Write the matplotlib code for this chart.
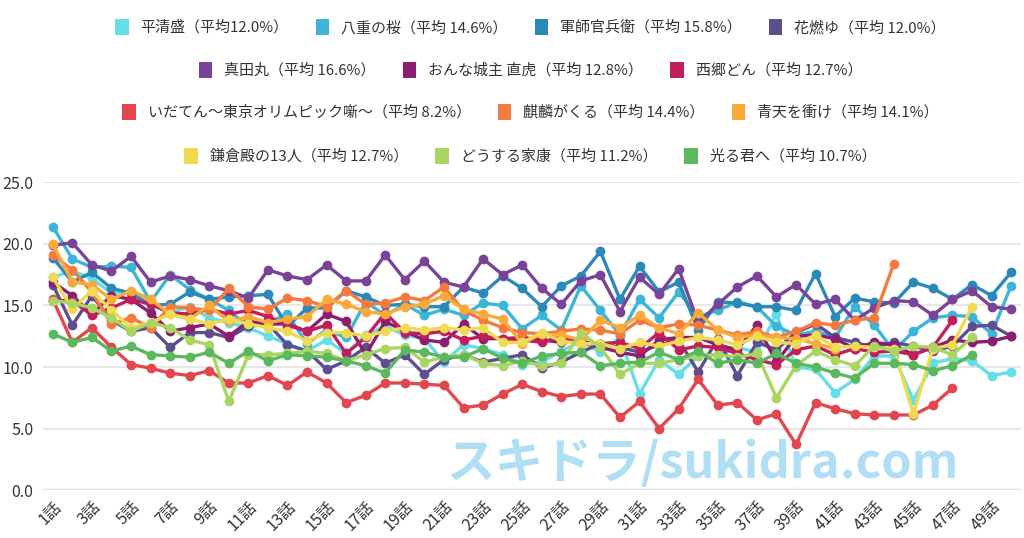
#!/usr/bin/python3

from matplotlib import pyplot as plt
from matplotlib.patches import Patch
from matplotlib.ticker import FixedLocator

# viewer ratings (%) per episode
heike = [17.3, 17.8, 17.2, 16.0, 16.1, 15.3, 14.4, 14.9, 14.0, 13.6, 13.2, 12.5, 11.9, 11.3, 12.2, 11.1, 12.6,
         13.3, 12.6, 12.3, 10.4, 11.8, 11.5, 11.0, 10.2, 10.4, 11.3, 12.1, 11.2, 12.4, 7.8, 10.6, 9.4, 10.9,
         11.0, 11.6, 11.2, 14.3, 10.0, 9.8, 7.9, 9.0, 10.9, 10.9, 7.3, 10.3, 10.7, 10.5, 9.3, 9.6]
yae = [21.4, 18.8, 18.1, 18.2, 18.1, 15.3, 17.5, 16.3, 15.5, 14.6, 13.3, 13.6, 14.3, 11.9, 13.0, 12.4, 15.3,
       14.2, 15.1, 14.2, 14.7, 14.2, 15.2, 15.0, 13.1, 14.2, 13.0, 16.6, 14.6, 12.6, 15.5, 14.0, 16.1, 14.1,
       14.6, 15.3, 14.9, 13.3, 12.6, 12.9, 12.4, 14.9, 13.4, 11.3, 12.9, 14.0, 14.2, 14.1, 12.7, 16.6]
kanbei = [18.9, 16.9, 17.7, 16.4, 16.0, 15.0, 15.1, 16.1, 15.5, 15.7, 15.8, 15.9, 13.3, 14.8, 14.8, 16.2, 15.7,
          15.0, 15.1, 14.9, 14.9, 16.5, 16.0, 17.4, 16.4, 14.9, 16.6, 17.4, 19.4, 15.5, 18.2, 16.1, 16.9, 13.0,
          15.3, 15.2, 14.9, 14.9, 14.6, 17.6, 14.1, 15.6, 15.3, 15.2, 16.9, 16.4, 15.5, 16.7, 15.8, 17.7]
hanamoyu = [16.7, 13.4, 15.8, 13.8, 12.9, 13.2, 11.6, 12.8, 12.8, 12.4, 13.3, 13.5, 11.8, 11.3, 9.8, 10.5, 11.6,
            10.3, 11.0, 9.4, 10.6, 11.0, 10.4, 10.7, 11.0, 9.9, 10.4, 11.2, 11.9, 11.6, 11.2, 11.8, 12.2, 9.6,
            12.3, 9.3, 12.0, 11.4, 12.8, 13.5, 12.4, 12.0, 11.6, 12.0, 11.7, 11.3, 11.7, 13.3, 13.4, 12.5]
sanada = [19.9, 20.1, 18.3, 17.8, 19.0, 16.9, 17.4, 17.1, 16.6, 16.2, 15.6, 17.9, 17.4, 17.1, 18.3, 17.0, 17.0,
          19.1, 17.1, 18.6, 16.9, 16.5, 18.8, 17.5, 18.3, 16.4, 15.1, 17.0, 17.5, 14.5, 17.3, 15.9, 18.0, 13.6,
          15.1, 16.5, 17.4, 15.7, 16.7, 15.1, 15.5, 13.8, 14.8, 15.4, 15.3, 14.2, 15.5, 16.2, 14.9, 14.7]
naotora = [16.9, 15.8, 14.3, 15.8, 15.5, 14.4, 12.9, 13.2, 13.5, 12.5, 13.7, 13.5, 13.5, 12.9, 14.3, 13.7, 11.0,
           13.7, 12.9, 12.2, 12.0, 13.5, 12.3, 12.3, 12.4, 12.2, 12.0, 12.2, 11.6, 11.2, 10.9, 12.2, 12.4, 12.4,
           11.8, 11.4, 13.4, 10.4, 12.5, 12.6, 12.3, 11.5, 12.0, 11.8, 11.0, 11.6, 12.2, 12.0, 12.1, 12.5]
saigo = [15.4, 15.4, 14.2, 14.8, 15.5, 15.1, 14.4, 14.3, 14.7, 14.3, 14.6, 14.1, 13.4, 12.9, 13.4, 11.1, 12.4,
         14.4, 12.8, 12.7, 12.9, 12.2, 12.5, 12.3, 12.2, 12.0, 12.5, 11.9, 11.9, 12.0, 11.5, 12.8, 11.4, 11.7,
         11.6, 11.1, 10.6, 10.2, 11.4, 11.7, 11.0, 11.5, 11.2, 11.3, 11.0, 11.6, 13.8]
idaten = [15.5, 12.0, 13.2, 11.6, 10.2, 9.9, 9.5, 9.3, 9.7, 8.7, 8.7, 9.3, 8.5, 9.6, 8.7, 7.1, 7.7, 8.7, 8.7,
          8.6, 8.5, 6.7, 6.9, 7.8, 8.6, 8.0, 7.6, 7.8, 7.8, 5.9, 7.2, 5.0, 6.6, 9.0, 6.9, 7.1, 5.7, 6.2, 3.7,
          7.1, 6.6, 6.2, 6.1, 6.1, 6.1, 6.9, 8.3]
kirin = [19.1, 17.9, 16.1, 13.5, 14.0, 13.2, 14.9, 14.8, 14.6, 16.4, 14.9, 14.7, 15.6, 15.4, 14.9, 16.2, 15.1,
         15.2, 15.7, 15.4, 16.5, 14.6, 13.8, 13.2, 12.8, 12.7, 12.9, 13.1, 13.0, 12.7, 13.8, 13.2, 13.5, 13.4,
         13.0, 12.6, 12.9, 12.4, 12.9, 13.6, 13.4, 13.8, 14.0, 18.4]
seiten = [20.0, 16.9, 16.7, 15.5, 16.2, 15.5, 14.3, 13.9, 15.0, 13.7, 14.1, 13.6, 13.9, 14.1, 15.5, 15.1, 14.5,
          14.3, 14.9, 15.1, 15.8, 14.7, 14.3, 13.9, 11.9, 12.7, 12.6, 12.2, 13.8, 13.2, 14.2, 13.2, 12.7, 14.4,
          13.0, 12.4, 12.6, 12.4, 12.3, 11.9, 11.5]
kamakura = [17.3, 14.7, 16.2, 14.6, 13.2, 13.6, 14.3, 13.9, 13.5, 13.9, 13.5, 13.2, 12.9, 12.1, 12.8, 12.8, 12.5,
            12.9, 13.2, 13.0, 13.2, 13.0, 13.2, 12.0, 12.0, 12.8, 12.1, 11.9, 11.9, 11.5, 12.0, 11.7, 12.1, 12.4,
            12.2, 11.8, 12.5, 12.0, 11.9, 12.6, 11.6, 11.7, 11.6, 11.5, 6.2, 11.5, 11.8, 14.9]
ieyasu = [15.4, 15.2, 14.8, 14.0, 12.9, 13.6, 13.2, 12.2, 11.8, 7.2, 11.0, 11.0, 11.1, 11.3, 11.1, 10.5, 11.0,
          11.5, 11.6, 10.4, 10.8, 11.0, 10.3, 10.1, 10.5, 10.1, 10.3, 12.8, 11.6, 9.4, 10.3, 10.3, 10.6, 10.9,
          11.0, 10.8, 11.1, 7.5, 10.1, 11.3, 10.6, 10.1, 11.7, 11.3, 11.7, 11.6, 11.0, 12.4]
hikaru = [12.7, 12.0, 12.4, 11.3, 11.7, 11.0, 10.9, 10.8, 11.2, 10.3, 11.3, 10.5, 11.0, 10.9, 10.8, 10.5, 10.1,
          9.5, 11.4, 11.2, 10.8, 10.8, 11.5, 10.7, 10.3, 10.9, 11.1, 11.2, 10.1, 10.3, 10.4, 11.2, 10.6, 11.3,
          10.3, 10.6, 10.3, 11.1, 10.3, 10.0, 9.5, 9.1, 10.3, 10.3, 10.2, 9.7, 10.1, 11.0]

names = ['平清盛（平均12.0%）', '八重の桜（平均 14.6%）', '軍師官兵衛（平均 15.8%）', '花燃ゆ（平均 12.0%）',
         '真田丸（平均 16.6%）', 'おんな城主 直虎（平均 12.8%）', '西郷どん（平均 12.7%）',
         'いだてん〜東京オリムピック噺〜（平均 8.2%）', '麒麟がくる（平均 14.4%）', '青天を衝け（平均 14.1%）',
         '鎌倉殿の13人（平均 12.7%）', 'どうする家康（平均 11.2%）', '光る君へ（平均 10.7%）']
series = [heike, yae, kanbei, hanamoyu, sanada, naotora, saigo, idaten, kirin, seiten, kamakura, ieyasu, hikaru]
colors = ['#66dee8', '#3db5d9', '#2a89b8', '#5b4f90', '#7a4398', '#8b1e70', '#c21d5c',
          '#e2474f', '#f47a3e', '#f9aa38', '#f0da50', '#a9d561', '#5cb85c']
legendRows = [[0, 1, 2, 3], [4, 5, 6], [7, 8, 9], [10, 11, 12]]
yTicks = [0, 5, 10, 15, 20, 25]
xTicks = list(range(1, 51, 2))

plt.rcParams['font.family'] = ['Noto Sans CJK JP', 'DejaVu Sans']

fig = plt.figure(figsize=(10.24, 5.38), dpi=100)
ax = fig.add_axes([0.042, 0.0892, 0.955, 0.5716])

for vals, col in zip(series, colors):
    eps = list(range(1, len(vals) + 1))
    ax.plot(eps, vals, color=col, lw=2.4, marker='o', ms=6, mec=col, mfc=col,
            solid_joinstyle='round', zorder=3)

ax.set_xlim(0.5, 50.5)
ax.set_ylim(0, 25)
ax.yaxis.set_major_locator(FixedLocator(yTicks))
ax.set_yticklabels(['{:.1f}'.format(v) for v in yTicks])
ax.set_xticks(xTicks)
ax.set_xticklabels(['{}話'.format(i) for i in xTicks], rotation=45, ha='right', va='top',
                   rotation_mode='anchor')
ax.tick_params(axis='both', length=0, labelsize=11.5, colors='#333333')
ax.tick_params(axis='y', pad=7)
ax.tick_params(axis='x', pad=6)
ax.grid(axis='y', color='#e3e3e3', lw=1.2, zorder=0)
ax.axhline(0, color='#c8c8c8', lw=1.6, zorder=1)
for s in ax.spines.values():
    s.set_visible(False)

# watermark sits above the lines
ax.text(0.686, 0.138, 'スキドラ/sukidra.com', transform=fig.transFigure, ha='center', va='center',
        fontsize=35, fontweight='bold', color='#9dd7f3', alpha=0.8, zorder=10)

# legend: four centred rows
rowY = [27, 70, 112, 156]
for row, y in zip(legendRows, rowY):
    handles = [Patch(facecolor=colors[i], edgecolor='none') for i in row]
    labels = [names[i] for i in row]
    leg = fig.legend(handles, labels, loc='center', bbox_to_anchor=(0.518, 1 - y / 538), ncol=len(row),
                     frameon=False, fontsize=10.8, handlelength=0.9, handleheight=1.3,
                     handletextpad=0.8, columnspacing=1.8, borderaxespad=0)
    for t in leg.get_texts():
        t.set_color('#333333')

plt.savefig('out.png', dpi=100)
plt.close()
